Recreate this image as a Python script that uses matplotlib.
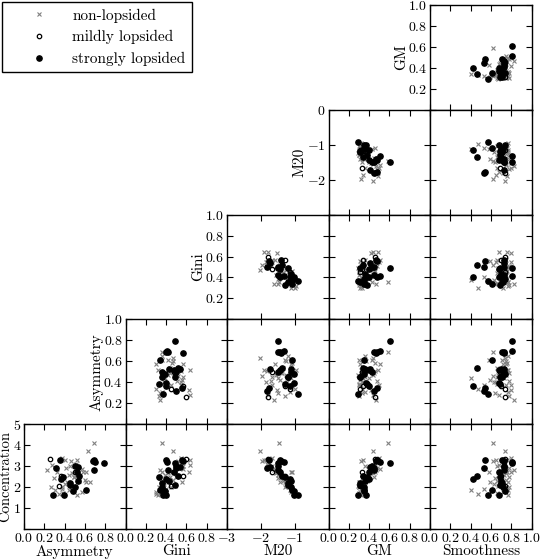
"""Corner plot of morphological parameters for lopsided / non-lopsided galaxies."""

import matplotlib
matplotlib.use("Agg")
import matplotlib.pyplot as plt

plt.rcParams["font.family"] = "serif"
plt.rcParams["font.serif"] = ["cmr10", "DejaVu Serif"]
plt.rcParams["mathtext.fontset"] = "cm"
plt.rcParams["axes.formatter.use_mathtext"] = True

# parameter names, axis ranges and ticks
params = ["Concentration", "Asymmetry", "Gini", "M20", "GM", "Smoothness"]
limits = {"Concentration": (0, 5), "Asymmetry": (0, 1), "Gini": (0, 1),
          "M20": (-3, 0), "GM": (0, 1), "Smoothness": (0, 1)}
ticks = {"Concentration": [0, 1, 2, 3, 4, 5],
         "Asymmetry": [0, 0.2, 0.4, 0.6, 0.8, 1.0],
         "Gini": [0, 0.2, 0.4, 0.6, 0.8, 1.0],
         "M20": [-3, -2, -1, 0],
         "GM": [0, 0.2, 0.4, 0.6, 0.8, 1.0],
         "Smoothness": [0, 0.2, 0.4, 0.6, 0.8, 1.0]}

# non-lopsided galaxies
non_C = [1.62, 1.65, 1.70, 1.78, 1.86, 1.90, 1.98, 2.06, 2.13, 2.22, 2.25, 2.25,
         2.30, 2.41, 2.46, 2.49, 2.58, 2.67, 2.70, 2.70, 2.73, 2.81, 2.86, 2.90,
         3.02, 3.06, 3.11, 3.25, 3.27, 3.30, 3.38, 3.73, 4.10, 2.00, 1.85, 2.35]
non_A = [0.52, 0.34, 0.38, 0.57, 0.44, 0.37, 0.37, 0.47, 0.40, 0.61, 0.42, 0.65,
         0.54, 0.30, 0.49, 0.49, 0.44, 0.47, 0.33, 0.58, 0.61, 0.23, 0.57, 0.41,
         0.45, 0.28, 0.51, 0.46, 0.40, 0.52, 0.37, 0.63, 0.69, 0.27, 0.31, 0.60]
non_G = [0.32, 0.30, 0.35, 0.30, 0.38, 0.40, 0.45, 0.49, 0.38, 0.42, 0.56, 0.36,
         0.44, 0.34, 0.50, 0.44, 0.39, 0.42, 0.63, 0.46, 0.36, 0.34, 0.57, 0.51,
         0.57, 0.64, 0.55, 0.52, 0.55, 0.64, 0.55, 0.47, 0.36, 0.33, 0.36, 0.47]
non_M20 = [-0.95, -0.98, -1.05, -1.10, -1.12, -1.08, -1.18, -1.25, -1.22, -1.30,
           -1.42, -1.20, -1.35, -1.48, -1.40, -1.38, -1.50, -1.55, -1.52, -1.09,
           -1.12, -1.62, -1.58, -1.70, -1.66, -1.78, -1.82, -1.98, -1.86, -1.90,
           -1.66, -2.03, -1.46, -1.28, -1.15, -1.27]
non_GM = [0.32, 0.33, 0.30, 0.31, 0.34, 0.32, 0.30, 0.29, 0.33, 0.30, 0.31, 0.36,
          0.38, 0.33, 0.35, 0.45, 0.40, 0.44, 0.42, 0.46, 0.43, 0.47, 0.51, 0.48,
          0.36, 0.44, 0.46, 0.32, 0.34, 0.49, 0.50, 0.44, 0.59, 0.30, 0.36, 0.37]
non_S = [0.77, 0.47, 0.66, 0.72, 0.40, 0.53, 0.75, 0.67, 0.63, 0.71, 0.59, 0.77,
         0.66, 0.64, 0.78, 0.69, 0.73, 0.75, 0.80, 0.76, 0.58, 0.83, 0.75, 0.78,
         0.66, 0.68, 0.72, 0.62, 0.65, 0.76, 0.80, 0.74, 0.62, 0.78, 0.77, 0.75]

# mildly lopsided galaxies
mild_C = [3.32, 2.70, 2.05, 2.55]
mild_A = [0.26, 0.50, 0.34, 0.36]
mild_G = [0.60, 0.48, 0.45, 0.57]
mild_M20 = [-1.80, -1.66, -1.15, -1.30]
mild_GM = [0.46, 0.33, 0.31, 0.34]
mild_S = [0.74, 0.69, 0.74, 0.70]

# strongly lopsided galaxies
strong_C = [1.62, 1.63, 1.83, 1.84, 1.98, 2.11, 2.19, 2.29, 2.37, 2.47, 2.52,
            2.70, 2.83, 2.92, 2.97, 3.02, 3.16, 3.21, 3.29, 3.29, 3.25]
strong_A = [0.29, 0.39, 0.48, 0.61, 0.50, 0.45, 0.45, 0.53, 0.36, 0.38, 0.54,
            0.52, 0.69, 0.32, 0.53, 0.50, 0.79, 0.70, 0.35, 0.69, 0.68]
strong_G = [0.37, 0.40, 0.39, 0.34, 0.36, 0.49, 0.36, 0.43, 0.40, 0.33, 0.52,
            0.48, 0.42, 0.50, 0.54, 0.50, 0.49, 0.41, 0.56, 0.40, 0.57]
strong_M20 = [-0.91, -1.02, -1.01, -1.09, -1.12, -1.19, -1.21, -1.12, -1.15,
              -1.29, -1.36, -1.44, -1.48, -1.82, -1.72, -1.48, -1.48, -1.31,
              -1.77, -1.44, -1.40]
strong_GM = [0.29, 0.37, 0.35, 0.35, 0.35, 0.31, 0.31, 0.36, 0.40, 0.38, 0.34,
             0.40, 0.45, 0.45, 0.41, 0.43, 0.61, 0.51, 0.48, 0.48, 0.47]
strong_S = [0.57, 0.68, 0.74, 0.61, 0.72, 0.69, 0.71, 0.70, 0.42, 0.69, 0.46,
            0.68, 0.73, 0.53, 0.73, 0.73, 0.81, 0.81, 0.54, 0.71, 0.73]

groups = [
    (dict(zip(params, [non_C, non_A, non_G, non_M20, non_GM, non_S])),
     dict(marker="x", color="0.5", ms=3.0, mew=0.8, ls="none", label="non-lopsided")),
    (dict(zip(params, [mild_C, mild_A, mild_G, mild_M20, mild_GM, mild_S])),
     dict(marker="o", mfc="none", mec="black", ms=3.2, mew=0.9, ls="none",
          label="mildly lopsided")),
    (dict(zip(params, [strong_C, strong_A, strong_G, strong_M20, strong_GM, strong_S])),
     dict(marker="o", color="black", ms=3.8, ls="none", label="strongly lopsided")),
]

# rows (y) from top to bottom, columns (x) from left to right
rows = ["GM", "M20", "Gini", "Asymmetry", "Concentration"]
cols = ["Asymmetry", "Gini", "M20", "GM", "Smoothness"]

fig = plt.figure(figsize=(5.4, 5.6), dpi=100)
W, H = 540.0, 560.0
x0, pw = 24.0, 101.5
y0, ph = 5.0, 104.8

for r, yname in enumerate(rows):
    first = 4 - r
    for c in range(first, 5):
        xname = cols[c]
        ax = fig.add_axes([(x0 + c * pw) / W, 1 - (y0 + (r + 1) * ph) / H,
                           pw / W, ph / H])
        for data, style in groups:
            ax.plot(data[xname], data[yname], **style)
        ax.set_xlim(limits[xname])
        ax.set_ylim(limits[yname])
        ax.set_xticks(ticks[xname])
        ax.set_yticks(ticks[yname])
        ax.tick_params(direction="in", top=True, right=True, length=4,
                       width=0.8, labelsize=10, pad=2)
        for sp in ax.spines.values():
            sp.set_linewidth(1.0)

        if r == 4:
            ax.set_xlabel(xname, fontsize=11, labelpad=0)
            if c < 4:
                ax.xaxis.get_major_ticks()[-1].label1.set_visible(False)
        else:
            ax.tick_params(labelbottom=False)
        if c == first:
            ax.set_ylabel(yname, fontsize=10.5 if r == 4 else 11, labelpad=0)
            ax.yaxis.get_major_ticks()[0].label1.set_visible(False)
        else:
            ax.tick_params(labelleft=False)

handles = [plt.Line2D([], [], **style) for _, style in groups]
fig.legend(handles=handles, loc="upper left", bbox_to_anchor=(0.004, 0.996),
           borderaxespad=0, fontsize=11, fancybox=False, edgecolor="black",
           framealpha=1, handletextpad=0.2, borderpad=0.4, labelspacing=0.5,
           handlelength=4.0)

plt.savefig("out.png", dpi=100)
print("Saved out.png")
